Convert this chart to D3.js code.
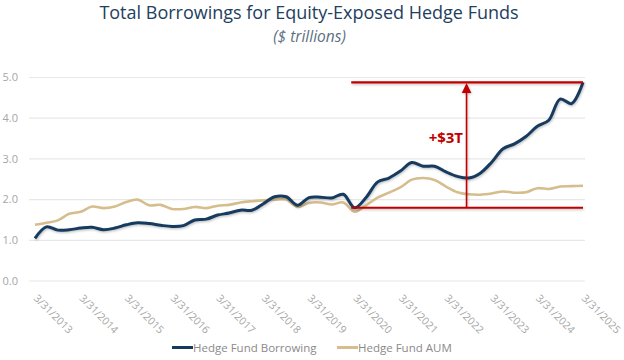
<!DOCTYPE html>
<html>
<head>
<meta charset="utf-8">
<script src="https://cdn.jsdelivr.net/npm/d3@7"></script>
<style>
  html, body { margin: 0; padding: 0; background: #ffffff; }
  svg { display: block; font-family: "Open Sans", "Noto Sans", sans-serif; }
</style>
</head>
<body>
<svg id="chart" width="624" height="360"></svg>
<script>
// ---- data ----
const years = [2013, 2014, 2015, 2016, 2017, 2018, 2019, 2020, 2021, 2022, 2023, 2024, 2025];
const tickLabels = years.map(y => "3/31/" + y);
// quarterly observations, 3/31/2013 .. 3/31/2025
const borrowing = [
  1.05, 1.33, 1.25, 1.26, 1.30, 1.32, 1.26, 1.30, 1.38, 1.43, 1.41, 1.37,
  1.34, 1.36, 1.50, 1.52, 1.62, 1.67, 1.74, 1.74, 1.90, 2.07, 2.07, 1.86,
  2.05, 2.06, 2.04, 2.13, 1.80, 2.05, 2.43, 2.53, 2.70, 2.91, 2.82, 2.82,
  2.68, 2.57, 2.53, 2.65, 2.92, 3.25, 3.37, 3.55, 3.80, 3.95, 4.47, 4.36, 4.88
];
const aum = [
  1.38, 1.43, 1.49, 1.65, 1.70, 1.83, 1.79, 1.83, 1.94, 2.00, 1.86, 1.87,
  1.77, 1.77, 1.82, 1.79, 1.85, 1.87, 1.93, 1.96, 1.98, 2.00, 2.00, 1.82,
  1.92, 1.93, 1.88, 1.93, 1.70, 1.86, 2.05, 2.17, 2.30, 2.49, 2.53, 2.48,
  2.32, 2.18, 2.13, 2.12, 2.15, 2.20, 2.17, 2.18, 2.28, 2.26, 2.32, 2.33, 2.34
];
const yTicks = [0, 1, 2, 3, 4, 5];
const seriesNames = ["Hedge Fund Borrowing", "Hedge Fund AUM"];
// annotation: bracket from the 2020 low to the latest value
const annoLow = 1.80, annoHigh = 4.88;
const annoStartIdx = 27.7, annoEndIdx = 48, annoArrowIdx = 37.8;
const annoLabel = "+$3T";

// ---- layout ----
const svg = d3.select("#chart");
const navy = "#163a5e", tan = "#d6bd8d", red = "#c00000";
const x = d3.scaleLinear().domain([0, borrowing.length - 1]).range([35, 583]);
const y = d3.scaleLinear().domain([0, 5]).range([281, 77.5]);

// title
svg.append("text").attr("x", 309).attr("y", 19).attr("text-anchor", "middle")
  .attr("font-size", 18).attr("fill", "#22405e")
  .text("Total Borrowings for Equity-Exposed Hedge Funds");
svg.append("text").attr("x", 309.5).attr("y", 42).attr("text-anchor", "middle")
  .attr("font-size", 15.5).attr("font-style", "italic").attr("fill", "#5d6f82")
  .text("($ trillions)");

// gridlines + y labels
const yAxis = svg.append("g");
yAxis.selectAll("line").data(yTicks).join("line")
  .attr("x1", 29).attr("x2", 585)
  .attr("y1", d => y(d)).attr("y2", d => y(d))
  .attr("stroke", "#e8e8e8").attr("stroke-width", 1.2);
yAxis.selectAll("text").data(yTicks).join("text")
  .attr("x", 18).attr("y", d => y(d)).attr("dy", "0.35em")
  .attr("text-anchor", "end").attr("font-size", 11).attr("fill", "#a6a6a6")
  .text(d => d3.format(".1f")(d));

// x labels (every 4th quarter)
const xAxis = svg.append("g");
xAxis.selectAll("text").data(tickLabels).join("text")
  .attr("transform", (d, i) => `translate(${x(i * 4) - 2},299) rotate(45)`)
  .attr("font-size", 10.5).attr("fill", "#a6a6a6")
  .text(d => d);

// shadow filter
const defs = svg.append("defs");
const f = defs.append("filter").attr("id", "shadow").attr("x", "-5%").attr("y", "-5%")
  .attr("width", "110%").attr("height", "120%");
f.append("feDropShadow").attr("dx", 0.8).attr("dy", 1.2).attr("stdDeviation", 0.9)
  .attr("flood-color", "#000").attr("flood-opacity", 0.25);

const line = d3.line().x((d, i) => x(i)).y(d => y(d)).curve(d3.curveCatmullRom.alpha(0.5));

svg.append("path").datum(aum).attr("d", line)
  .attr("fill", "none").attr("stroke", tan).attr("stroke-width", 2.6)
  .attr("stroke-linejoin", "round");
svg.append("path").datum(borrowing).attr("d", line)
  .attr("fill", "none").attr("stroke", navy).attr("stroke-width", 3)
  .attr("stroke-linejoin", "round").attr("filter", "url(#shadow)");

// annotation
const anno = svg.append("g").attr("filter", "url(#shadow)");
[annoLow, annoHigh].forEach(v => {
  anno.append("line")
    .attr("x1", x(annoStartIdx)).attr("x2", x(annoEndIdx))
    .attr("y1", y(v)).attr("y2", y(v))
    .attr("stroke", red).attr("stroke-width", 2.2);
});
const ax = x(annoArrowIdx);
anno.append("line").attr("x1", ax).attr("x2", ax)
  .attr("y1", y(annoLow)).attr("y2", y(annoHigh) + 9)
  .attr("stroke", red).attr("stroke-width", 1.6);
anno.append("path")
  .attr("d", `M${ax},${y(annoHigh) + 0.5} L${ax - 4.8},${y(annoHigh) + 10.5} L${ax + 4.8},${y(annoHigh) + 10.5} Z`)
  .attr("fill", red);
svg.append("text").attr("x", ax - 3.5).attr("y", 142.5).attr("text-anchor", "end")
  .attr("font-size", 15).attr("font-weight", "bold").attr("fill", red)
  .text(annoLabel);

// legend
const legend = svg.append("g");
const legendItems = [
  { name: seriesNames[0], color: navy, x0: 172 },
  { name: seriesNames[1], color: tan, x0: 337 }
];
legendItems.forEach(it => {
  legend.append("line").attr("x1", it.x0).attr("x2", it.x0 + 21)
    .attr("y1", 347.5).attr("y2", 347.5)
    .attr("stroke", it.color).attr("stroke-width", 3);
  legend.append("text").attr("x", it.x0 + 21).attr("y", 351.5)
    .attr("font-size", 11.5).attr("fill", "#8a8a8a").text(it.name);
});
</script>
</body>
</html>
